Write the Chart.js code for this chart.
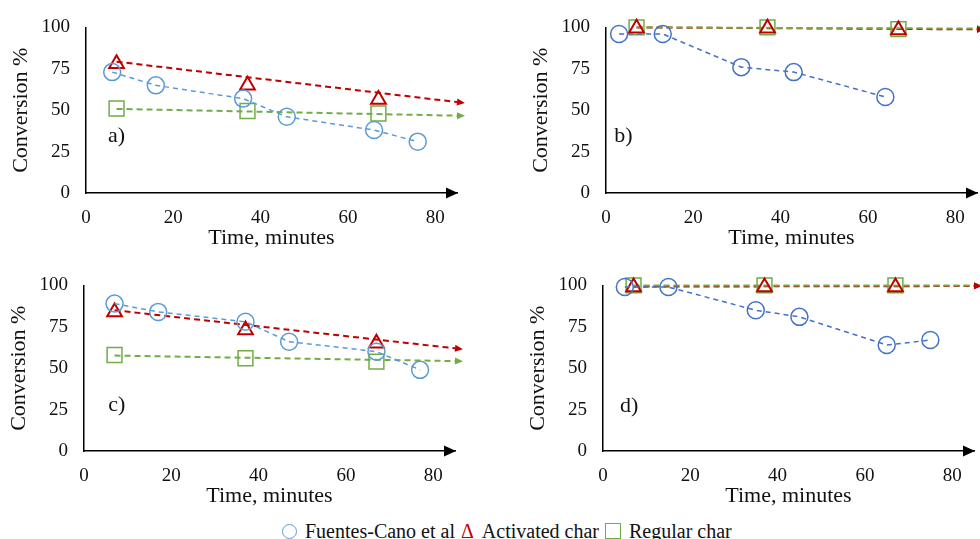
<!DOCTYPE html>
<html>
<head>
<meta charset="utf-8">
<title>Conversion vs time</title>
<script src="https://cdn.jsdelivr.net/npm/chart.js@4.4.1/dist/chart.umd.min.js"></script>
<style>
  html, body { margin: 0; padding: 0; background: #fff; width: 980px; height: 539px; overflow: hidden; }
  .panel { position: absolute; width: 490px; height: 260px; }
  #legend { position: absolute; left: 282px; top: 519px; height: 24px; display: flex; align-items: center;
            font-family: "Liberation Serif", "DejaVu Serif", serif; font-size: 20px; color: #111; white-space: nowrap; }
  #legend .mk { display: inline-block; box-sizing: border-box; margin-right: 8px; }
  #legend .txt { margin-right: 6px; }
</style>
</head>
<body>
<div class="panel" style="left:0px;top:0px"><canvas id="chartA"></canvas></div>
<div class="panel" style="left:520px;top:0px"><canvas id="chartB"></canvas></div>
<div class="panel" style="left:-2px;top:258px"><canvas id="chartC"></canvas></div>
<div class="panel" style="left:517px;top:258px"><canvas id="chartD"></canvas></div>
<div id="legend"></div>

<script>
const seriesNames = ['Fuentes-Cano et al', 'Activated char', 'Regular char'];
const xTicks = [0, 20, 40, 60, 80];
const yTicks = [0, 25, 50, 75, 100];

// sampling times of the char runs, and the span of the trend lines
const charTime = [7, 37, 67];
const trendTime = [7, 85];

// a)
const fcTimeA = [6, 16, 36, 46, 66, 76];
const fcConvA = [73, 65, 57, 46, 38, 31];
const actConvA = [78, 65, 56.5];
const regConvA = [51, 49.5, 48];
const actTrendA = [79.3, 54.9];
const regTrendA = [50.8, 46.7];

// b)
const fcTimeB = [3, 13, 31, 43, 64];
const fcConvB = [96, 96, 76, 73, 58];
const actConvB = [99.5, 99.5, 98.5];
const regConvB = [100, 100, 99];
const actTrendB = [100, 98.8];
const regTrendB = [100, 99.3];

// c)
const fcTimeC = [7, 17, 37, 47, 67, 77];
const fcConvC = [89, 84, 78, 66, 60, 49];
const actConvC = [84, 73, 65];
const regConvC = [58, 56, 54];
const actTrendC = [85, 62];
const regTrendC = [57.6, 54.3];

// d)
const fcTimeD = [5, 15, 35, 45, 65, 75];
const fcConvD = [99, 99, 85, 81, 64, 67];
const actConvD = [99, 99, 99];
const regConvD = [100, 100, 100];
const actTrendD = [99.3, 99.6];
const regTrendD = [100, 100];

const LIGHT_BLUE = '#5b9bd5';
const DARK_BLUE = '#4472c4';
const RED = '#c00000';
const GREEN = '#70ad47';
const SERIF = '"Liberation Serif", "DejaVu Serif", serif';

Chart.defaults.font.family = SERIF;
Chart.defaults.font.size = 19;
Chart.defaults.color = '#111';

const panels = [
  { canvas: 'chartA', tag: 'a)', tagAt: [7, 34], blue: LIGHT_BLUE, fcTime: fcTimeA, fcConv: fcConvA,
    act: actConvA, reg: regConvA, actTrend: actTrendA, regTrend: regTrendA },
  { canvas: 'chartB', tag: 'b)', tagAt: [4, 34], blue: DARK_BLUE, fcTime: fcTimeB, fcConv: fcConvB,
    act: actConvB, reg: regConvB, actTrend: actTrendB, regTrend: regTrendB },
  { canvas: 'chartC', tag: 'c)', tagAt: [7.5, 27.5], blue: LIGHT_BLUE, fcTime: fcTimeC, fcConv: fcConvC,
    act: actConvC, reg: regConvC, actTrend: actTrendC, regTrend: regTrendC },
  { canvas: 'chartD', tag: 'd)', tagAt: [6, 27], blue: DARK_BLUE, fcTime: fcTimeD, fcConv: fcConvD,
    act: actConvD, reg: regConvD, actTrend: actTrendD, regTrend: regTrendD }
];

function toPoints(xs, ys) {
  return xs.map((x, i) => ({ x: x, y: ys[i] }));
}

function drawHead(ctx, x0, y0, x1, y1, len, half, color) {
  const a = Math.atan2(y1 - y0, x1 - x0);
  ctx.save();
  ctx.translate(x1, y1);
  ctx.rotate(a);
  ctx.beginPath();
  ctx.moveTo(len, 0);
  ctx.lineTo(0, -half);
  ctx.lineTo(0, half);
  ctx.closePath();
  ctx.fillStyle = color;
  ctx.fill();
  ctx.restore();
}

// arrow heads on the trend lines and on the time axis
const arrowPlugin = {
  id: 'arrows',
  afterDatasetsDraw(chart) {
    const ctx = chart.ctx;
    chart.data.datasets.forEach((ds, i) => {
      if (!ds.arrow) return;
      const pts = chart.getDatasetMeta(i).data;
      const p = pts[pts.length - 1], q = pts[pts.length - 2];
      drawHead(ctx, q.x, q.y, p.x, p.y, 8, 3.5, ds.borderColor);
    });
    const xs = chart.scales.x;
    drawHead(ctx, xs.left, xs.top, xs.right - 11, xs.top, 12, 5.5, '#000');
  }
};

// panel letter inside the plot
const tagPlugin = {
  id: 'tag',
  afterDatasetsDraw(chart, args, opts) {
    const ctx = chart.ctx;
    ctx.save();
    ctx.font = '22px ' + SERIF;
    ctx.fillStyle = '#111';
    ctx.textAlign = 'center';
    ctx.textBaseline = 'middle';
    ctx.fillText(opts.text, chart.scales.x.getPixelForValue(opts.at[0]), chart.scales.y.getPixelForValue(opts.at[1]));
    ctx.restore();
  }
};

function buildChart(p) {
  const datasets = [
    { label: seriesNames[0], data: toPoints(p.fcTime, p.fcConv), showLine: true,
      borderColor: p.blue, borderWidth: 1.5, borderDash: [5, 4],
      pointStyle: 'circle', pointRadius: 8.5, pointBorderWidth: 1.5,
      pointBorderColor: p.blue, pointBackgroundColor: 'rgba(0,0,0,0)', clip: false },
    { label: seriesNames[1], data: toPoints(charTime, p.act), showLine: false,
      pointStyle: 'triangle', pointRadius: 8.5, pointBorderWidth: 2,
      pointBorderColor: RED, pointBackgroundColor: 'rgba(0,0,0,0)', clip: false },
    { label: seriesNames[2], data: toPoints(charTime, p.reg), showLine: false,
      pointStyle: 'rect', pointRadius: 10.5, pointBorderWidth: 1.5,
      pointBorderColor: GREEN, pointBackgroundColor: 'rgba(0,0,0,0)', clip: false },
    { label: seriesNames[2] + ' trend', data: toPoints(trendTime, p.regTrend), showLine: true,
      borderColor: GREEN, borderWidth: 2, borderDash: [6, 4], pointRadius: 0, arrow: true, clip: false },
    { label: seriesNames[1] + ' trend', data: toPoints(trendTime, p.actTrend), showLine: true,
      borderColor: RED, borderWidth: 2, borderDash: [6, 4], pointRadius: 0, arrow: true, clip: false }
  ];

  new Chart(document.getElementById(p.canvas), {
    type: 'scatter',
    data: { datasets: datasets },
    options: {
      responsive: true,
      maintainAspectRatio: false,
      animation: false,
      events: [],
      layout: { padding: { left: 0, top: 25, right: 33, bottom: 0 } },
      plugins: {
        legend: { display: false },
        tooltip: { enabled: false },
        tag: { text: p.tag, at: p.tagAt }
      },
      scales: {
        x: {
          type: 'linear', min: 0, max: 85,
          afterFit: s => { s.height = 67; },
          afterBuildTicks: s => { s.ticks = xTicks.map(v => ({ value: v })); },
          grid: { display: false, drawTicks: false },
          border: { display: true, color: '#000', width: 1.5 },
          ticks: { padding: 14, font: { family: SERIF, size: 19 }, color: '#111' },
          title: { display: true, text: 'Time, minutes', font: { family: SERIF, size: 22 }, color: '#111', padding: { top: 0, bottom: 9 } }
        },
        y: {
          type: 'linear', min: 0, max: 100,
          afterFit: s => { s.width = 86; },
          afterBuildTicks: s => { s.ticks = yTicks.map(v => ({ value: v })); },
          grid: { display: false, drawTicks: false },
          border: { display: true, color: '#000', width: 1.5 },
          ticks: { padding: 16, font: { family: SERIF, size: 19 }, color: '#111' },
          title: { display: true, text: 'Conversion %', font: { family: SERIF, size: 22 }, color: '#111', padding: { top: 8, bottom: 0 } }
        }
      }
    },
    plugins: [arrowPlugin, tagPlugin]
  });
}

panels.forEach(buildChart);

// shared legend under the panels
const legendMarks = [
  { border: '1.5px solid ' + LIGHT_BLUE, size: 15, radius: '50%' },
  { glyph: '\u0394', color: RED },
  { border: '1.5px solid ' + GREEN, size: 16, radius: '0' }
];
const legend = document.getElementById('legend');
seriesNames.forEach((name, i) => {
  const m = legendMarks[i];
  const mk = document.createElement('span');
  mk.className = 'mk';
  if (m.glyph) {
    mk.textContent = m.glyph;
    mk.style.color = m.color;
  } else {
    mk.style.width = m.size + 'px';
    mk.style.height = m.size + 'px';
    mk.style.border = m.border;
    mk.style.borderRadius = m.radius;
  }
  const txt = document.createElement('span');
  txt.className = 'txt';
  txt.textContent = name;
  legend.appendChild(mk);
  legend.appendChild(txt);
});
</script>
</body>
</html>
